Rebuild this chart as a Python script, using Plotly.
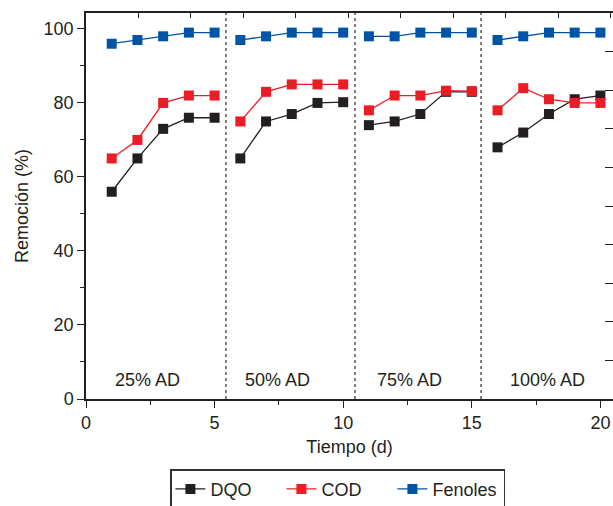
import plotly.graph_objects as go

# Data: days grouped by AD fraction
days_groups = [[1, 2, 3, 4, 5], [6, 7, 8, 9, 10], [11, 12, 13, 14, 15], [16, 17, 18, 19, 20]]
group_labels = ["25% AD", "50% AD", "75% AD", "100% AD"]
group_label_x = [2.4, 7.45, 12.58, 17.93]
dividers = [5.44, 10.46, 15.36]

dqo = [[56, 65, 73, 76, 76], [65, 75, 77, 80, 80.2], [74, 75, 77, 83, 83], [68, 72, 77, 81, 82]]
cod = [[65, 70, 80, 82, 82], [75, 83, 85, 85, 85], [78, 82, 82, 83.3, 83.2], [78, 84, 81, 80, 80]]
fenoles = [[96, 97, 98, 99, 99], [97, 98, 99, 99, 99], [98, 98, 99, 99, 99], [97, 98, 99, 99, 99]]

series = [("DQO", dqo, "#231f20"), ("COD", cod, "#ed1c24"), ("Fenoles", fenoles, "#0054a6")]

fig = go.Figure()
for name, vals, color in series:
    for gi, (xs, ys) in enumerate(zip(days_groups, vals)):
        fig.add_trace(go.Scatter(
            x=xs, y=ys, mode="lines+markers", name=name,
            legendgroup=name, showlegend=(gi == 0),
            line=dict(color=color, width=1.3),
            marker=dict(symbol="square", size=10, color=color),
        ))

# empty trace to create the secondary (top/right) tick axes
fig.add_trace(go.Scatter(x=[], y=[], xaxis="x2", yaxis="y2", showlegend=False, hoverinfo="skip"))

for d in dividers:
    fig.add_shape(type="line", xref="x", yref="paper", x0=d, x1=d, y0=0, y1=1,
                  line=dict(color="#555555", width=1.5, dash="dot"))

for lab, lx in zip(group_labels, group_label_x):
    fig.add_annotation(x=lx, y=5.1, xref="x", yref="y", text=lab, showarrow=False,
                       font=dict(size=18, color="#231f20"), xanchor="center", yanchor="middle")

axcol = "#231f20"
font = dict(family="Liberation Sans, Arial, sans-serif", size=18, color=axcol)

fig.update_layout(
    width=613, height=506,
    margin=dict(l=86, r=0, t=13, b=107, autoexpand=False),
    plot_bgcolor="white", paper_bgcolor="white",
    font=font,
    showlegend=True,
    legend=dict(orientation="h", x=0.478, xanchor="center", y=-0.182, yanchor="top",
                bordercolor="#333333", borderwidth=1.5, font=dict(size=18, color=axcol),
                bgcolor="white", entrywidth=66, entrywidthmode="pixels"),
    xaxis=dict(range=[0, 20.49], tickvals=[0, 5, 10, 15, 20], ticks="outside", ticklen=7,
               tickwidth=1.3, tickcolor=axcol, showline=True, linecolor=axcol, linewidth=1.5,
               showgrid=False, zeroline=False, mirror=False,
               minor=dict(tickvals=[2.5, 7.5, 12.5, 17.5], ticks="outside", ticklen=4, tickcolor=axcol, tickwidth=1.3),
               title=dict(text="Tiempo (d)", standoff=8, font=dict(size=18))),
    yaxis=dict(range=[0, 104.3], tickvals=[0, 20, 40, 60, 80, 100], ticks="outside", ticklen=7,
               tickwidth=1.3, tickcolor=axcol, showline=True, linecolor=axcol, linewidth=1.5,
               showgrid=False, zeroline=False, mirror=False,
               minor=dict(tickvals=[10, 30, 50, 70, 90], ticks="outside", ticklen=4, tickcolor=axcol, tickwidth=1.3),
               title=dict(text="Remoción (%)", standoff=10, font=dict(size=18))),
    xaxis2=dict(overlaying="x", side="top", range=[0, 10.04], dtick=1, ticks="inside", ticklen=5,
                tickwidth=1.3, tickcolor=axcol, showticklabels=False, showline=True,
                linecolor=axcol, linewidth=1.5, showgrid=False, zeroline=False),
    yaxis2=dict(overlaying="y", side="right", range=[0, 10], dtick=1, ticks="inside", ticklen=8,
                tickwidth=1.3, tickcolor=axcol, showticklabels=False, showline=False,
                showgrid=False, zeroline=False),
)

fig.write_html("out.html")
